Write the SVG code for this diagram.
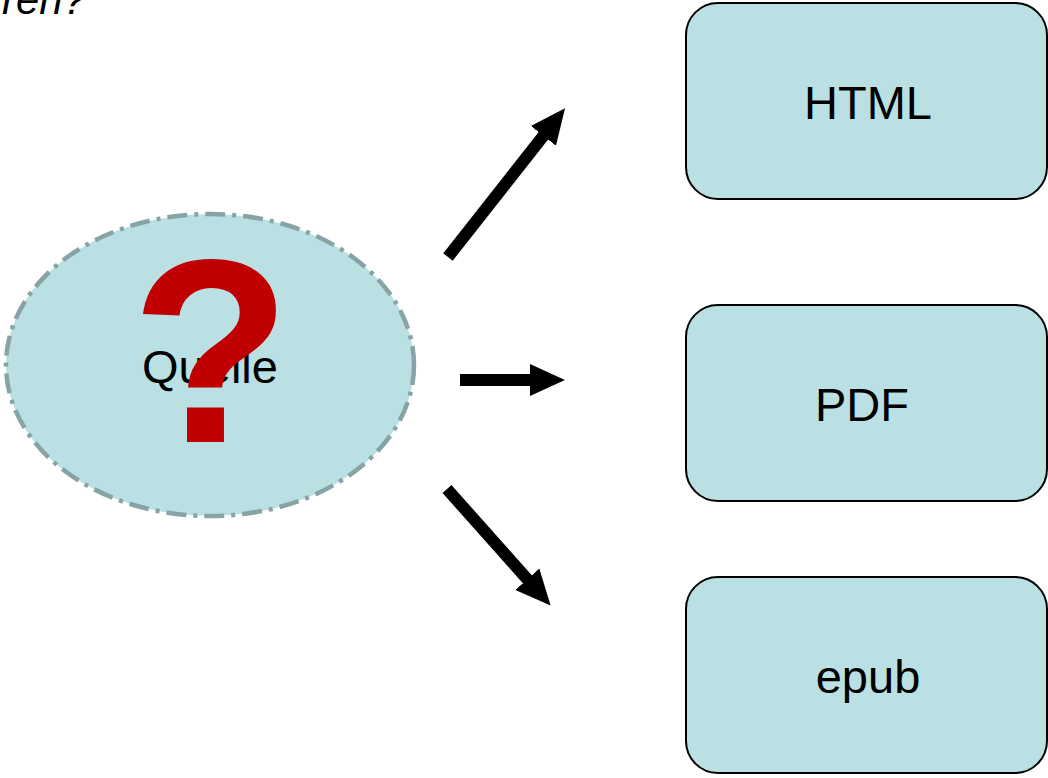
<svg xmlns="http://www.w3.org/2000/svg" width="1048" height="778" viewBox="0 0 1048 778">
<style>
.box{fill:#bae0e3;stroke:#000;stroke-width:2}
.lbl{font-family:"Liberation Sans",Arial,sans-serif;font-size:47px;fill:#000;text-anchor:middle}
.conn{stroke:#000;stroke-width:12;fill:none}
</style>
<defs>
<marker id="ah" markerUnits="userSpaceOnUse" markerWidth="36" markerHeight="34" viewBox="0 0 36 34" refX="1" refY="17" orient="auto">
<path d="M0,1 L35,17 L0,33 z" fill="#000"/>
</marker>
</defs>
<rect width="1048" height="778" fill="#fff"/>
<text x="86" y="14" font-family="Liberation Sans,Arial,sans-serif" font-style="italic" font-size="42" text-anchor="end">ren?</text>
<g id="quelle">
<ellipse cx="210" cy="365" rx="204" ry="151" fill="#bae0e3" stroke="#87a3a6" stroke-width="4.5" stroke-dasharray="20 7 4 7"/>
<text class="lbl" x="210" y="383" font-size="46">Quelle</text>
<text x="211" y="442" font-family="Liberation Sans,Arial,sans-serif" font-weight="bold" font-size="262" fill="#c00000" text-anchor="middle">?</text>
</g>
<g id="connectors">
<line class="conn" x1="448" y1="257" x2="544" y2="135" marker-end="url(#ah)"/>
<line class="conn" x1="460" y1="380" x2="531" y2="380" marker-end="url(#ah)"/>
<line class="conn" x1="447" y1="489" x2="528" y2="580" marker-end="url(#ah)"/>
</g>
<g id="html">
<rect class="box" x="686" y="3" width="361" height="196" rx="32"/>
<text class="lbl" x="868" y="119">HTML</text>
</g>
<g id="pdf">
<rect class="box" x="686" y="305" width="361" height="196" rx="32"/>
<text class="lbl" x="862" y="421">PDF</text>
</g>
<g id="epub">
<rect class="box" x="686" y="577" width="361" height="196" rx="32"/>
<text class="lbl" x="868" y="693">epub</text>
</g>
</svg>
